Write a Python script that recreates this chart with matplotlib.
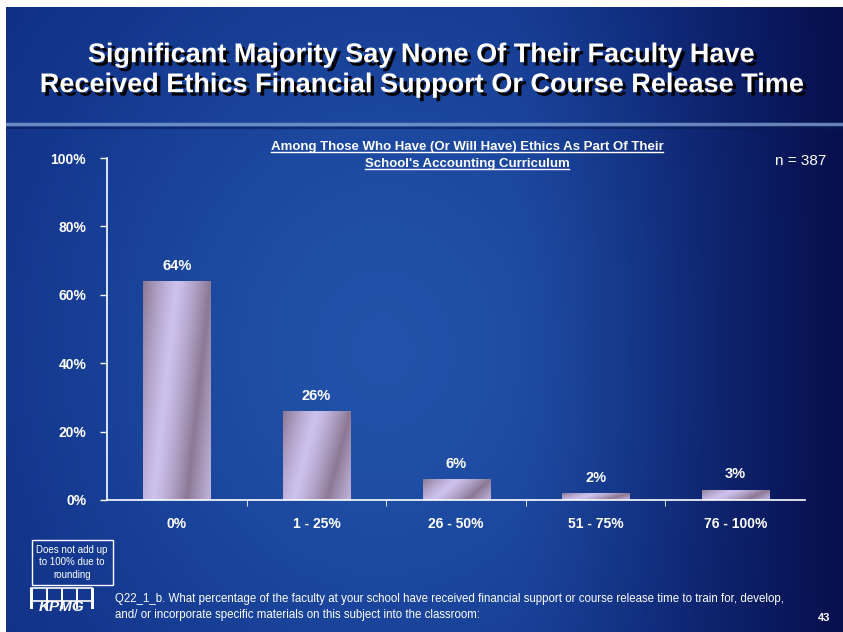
import numpy as np
import matplotlib.pyplot as plt
import matplotlib.patheffects as pe
from matplotlib.patches import Rectangle

categories = ['0%', '1 - 25%', '26 - 50%', '51 - 75%', '76 - 100%']
values = [64, 26, 6, 2, 3]
y_ticks = [0, 20, 40, 60, 80, 100]

title = 'Significant Majority Say None Of Their Faculty Have\nReceived Ethics Financial Support Or Course Release Time'
subtitle = ["Among Those Who Have (Or Will Have) Ethics As Part Of Their",
            "School's Accounting Curriculum"]
footnote = ('Q22_1_b. What percentage of the faculty at your school have received financial support or course release time to train for, develop,\n'
            'and/ or incorporate specific materials on this subject into the classroom:')

plt.rcParams['font.family'] = ['Liberation Sans', 'DejaVu Sans']

fig = plt.figure(figsize=(8.43, 6.32), dpi=100)
fig.patch.set_facecolor('white')

# background gradient
bg = fig.add_axes([0.007, 0, 0.993, 0.989])
bg.axis('off')
h, w = 200, 300
yy, xx = np.mgrid[0:1:h*1j, 0:1:w*1j]
light = np.exp(-(((xx - 0.45) / 0.45) ** 2 + ((yy - 0.55) / 0.7) ** 2))
dark_right = np.clip((xx - 0.6) / 0.4, 0, 1) ** 1.5
c_base = np.array([0.05, 0.16, 0.50])
c_light = np.array([0.13, 0.32, 0.66])
c_dark = np.array([0.03, 0.06, 0.30])
img = c_base[None, None, :] + (c_light - c_base)[None, None, :] * light[..., None]
img = img + (c_dark - img) * dark_right[..., None]
bg.imshow(img, aspect='auto', extent=[0, 1, 0, 1], origin='upper')
bg.set_xlim(0, 1)
bg.set_ylim(0, 1)
# separator line under title band
bg.plot([0, 1], [0.812, 0.812], color='#7f9fd0', lw=2.5, alpha=0.8)
bg.plot([0, 1], [0.807, 0.807], color='#0a1a50', lw=1.5, alpha=0.6)

fig.text(0.5, 0.889, title, ha='center', va='center', color='white',
         fontsize=19.5, fontweight='bold', linespacing=1.2,
         path_effects=[pe.withSimplePatchShadow(offset=(2.5, -2.5), shadow_rgbFace='black', alpha=1.0)])

ax = fig.add_axes([0.127, 0.2089, 0.828, 0.5411])
ax.patch.set_alpha(0)
x = np.arange(len(categories))
bars = ax.bar(x, values, width=0.48, color='none', edgecolor='none')

# gradient fill for bars
gy, gx = np.mgrid[0:1:100j, 0:1:100j]
t = np.abs(((gx * 1.0 + gy * 0.35) % 1.0) - 0.5) * 2
lav = np.array([0.80, 0.76, 0.93])
mauve = np.array([0.55, 0.47, 0.58])
grad = lav[None, None, :] + (mauve - lav)[None, None, :] * (t[..., None] ** 1.3)
for b in bars:
    bx, by, bw, bh = b.get_x(), b.get_y(), b.get_width(), b.get_height()
    im = ax.imshow(grad, extent=[bx, bx + bw, by, by + bh], aspect='auto', zorder=2, origin='upper')
    im.set_clip_path(Rectangle((bx, by), bw, bh, transform=ax.transData))
    ax.text(bx + bw / 2, bh + 2.5, f'{bh:.0f}%', ha='center', va='bottom', color='white',
            fontsize=10.5, fontweight='bold')

ax.set_xlim(-0.5, len(categories) - 0.5)
ax.set_ylim(0, 100)
ax.set_yticks(y_ticks)
ax.set_yticklabels([f'{v}%' for v in y_ticks], color='white', fontsize=10, fontweight='bold')
ax.set_xticks(x)
ax.set_xticklabels(categories, color='white', fontsize=10, fontweight='bold')
ax.set_xticks(np.arange(len(categories) - 1) + 0.5, minor=True)
ax.tick_params(axis='x', which='major', length=0, pad=12)
ax.tick_params(axis='x', which='minor', length=4, color='white', direction='out')
ax.tick_params(axis='y', length=5, color='white', width=1, pad=10)
for s in ['top', 'right']:
    ax.spines[s].set_visible(False)
for s in ['left', 'bottom']:
    ax.spines[s].set_color('white')
    ax.spines[s].set_linewidth(1.2)

# underlined subtitle
sub_texts = []
for i, line in enumerate(subtitle):
    t_ = fig.text(0.554, 0.768 - i * 0.027, line, ha='center', va='center', color='white',
                  fontsize=9.5, fontweight='bold')
    sub_texts.append(t_)
fig.text(0.98, 0.745, 'n = 387', ha='right', va='center', color='white', fontsize=11)

# note box
fig.text(0.0855, 0.11, 'Does not add up\nto 100% due to\nrounding', ha='center', va='center',
         color='white', fontsize=7, linespacing=1.3,
         bbox=dict(boxstyle='square,pad=0.5', facecolor='none', edgecolor='white', lw=1))

fig.text(0.137, 0.04, footnote, ha='left', va='center', color='white', fontsize=8.3,
         linespacing=1.45)
fig.text(0.978, 0.022, '43', ha='center', va='center', color='white', fontsize=8, fontweight='bold')

# simple KPMG logo
lx0, ly0 = 0.037, 0.027
fig.patches.append(Rectangle((lx0, ly0 + 0.022), 0.072, 0.02, transform=fig.transFigure,
                             facecolor='none', edgecolor='white', lw=1.2))
for k in range(5):
    fig.patches.append(Rectangle((lx0 + k * 0.018 - 0.001, ly0 + 0.01), 0.003, 0.032,
                                 transform=fig.transFigure, facecolor='white', edgecolor='none'))
fig.text(lx0 + 0.036, ly0 + 0.012, 'KPMG', ha='center', va='center', color='white',
         fontsize=11, fontweight='bold', style='italic')

fig.canvas.draw()
r = fig.canvas.get_renderer()
for t_ in sub_texts:
    bb = t_.get_window_extent(r).transformed(fig.transFigure.inverted())
    fig.add_artist(plt.Line2D([bb.x0, bb.x1], [bb.y0 + 0.001, bb.y0 + 0.001],
                              transform=fig.transFigure, color='white', lw=1))

fig.savefig('out.png', dpi=100, facecolor=fig.get_facecolor())
